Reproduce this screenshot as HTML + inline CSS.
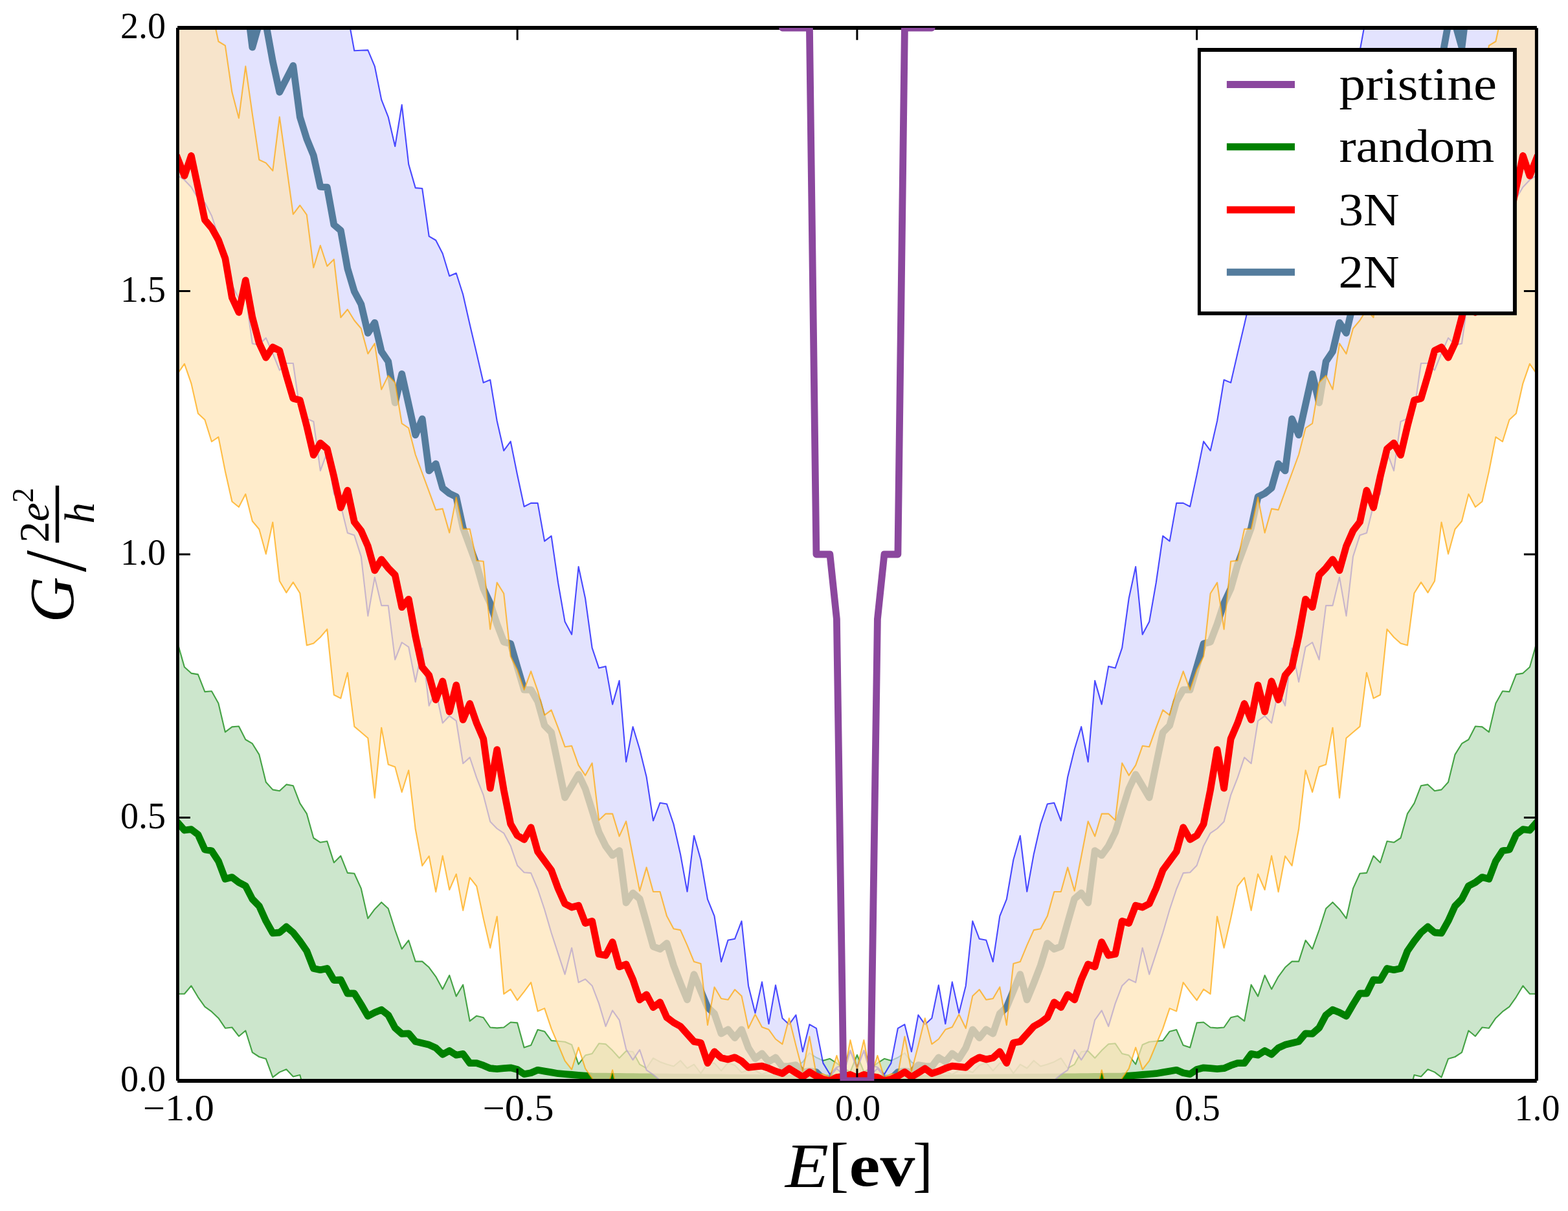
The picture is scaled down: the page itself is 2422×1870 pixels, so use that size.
<!DOCTYPE html>
<html><head><meta charset="utf-8"><title>G vs E</title><style>html,body{margin:0;padding:0;background:#fff;}svg{display:block;}</style></head><body>
<svg xmlns="http://www.w3.org/2000/svg" width="2422" height="1870" viewBox="0 0 2422 1870">
<rect width="2422" height="1870" fill="#ffffff"/>
<defs><clipPath id="ax"><rect x="274.4" y="43.0" width="2099.0" height="1626.0"/></clipPath></defs>
<g clip-path="url(#ax)" fill="none" stroke-linejoin="round">
<polygon points="274.4,993.0 284.9,1030.0 295.4,1039.6 305.9,1041.4 316.4,1068.1 326.9,1067.2 337.4,1085.9 347.9,1130.4 358.4,1122.4 368.9,1121.5 379.3,1142.0 389.8,1148.2 400.3,1165.1 410.8,1207.8 421.3,1219.4 431.8,1221.2 442.3,1211.4 452.8,1213.2 463.3,1240.3 473.8,1256.3 484.3,1294.0 494.8,1300.8 505.3,1299.0 515.8,1331.9 526.3,1321.6 536.8,1347.9 547.3,1348.7 557.8,1371.9 568.3,1418.2 578.8,1403.9 589.2,1393.2 599.7,1403.0 610.2,1436.0 620.7,1465.3 631.2,1452.0 641.7,1484.6 652.2,1484.6 662.7,1493.8 673.2,1508.1 683.7,1527.4 694.2,1506.0 704.7,1538.4 715.2,1520.6 725.7,1576.7 736.2,1568.7 746.7,1571.3 757.2,1586.5 767.7,1587.4 778.2,1586.5 788.7,1578.5 799.1,1579.4 809.6,1617.6 820.1,1614.1 830.6,1590.0 841.1,1592.7 851.6,1606.9 862.1,1607.8 872.6,1608.7 883.1,1613.2 893.6,1643.4 904.1,1629.6 914.6,1627.0 925.1,1611.3 935.6,1612.3 946.1,1622.1 956.6,1633.8 967.1,1623.0 977.6,1624.0 988.1,1643.6 998.6,1649.5 1009.0,1633.8 1019.5,1639.7 1030.0,1643.6 1040.5,1646.5 1051.0,1637.7 1061.5,1649.5 1072.0,1643.6 1082.5,1657.3 1093.0,1641.6 1103.5,1641.6 1114.0,1653.4 1124.5,1641.0 1135.0,1645.0 1145.5,1656.0 1156.0,1652.0 1166.5,1653.0 1177.0,1659.0 1187.5,1655.0 1198.0,1659.0 1208.5,1650.0 1218.9,1648.0 1229.4,1646.0 1239.9,1640.0 1250.4,1626.0 1260.9,1633.0 1271.4,1637.7 1281.9,1634.8 1292.4,1641.6 1302.9,1650.0 1313.4,1655.0 1323.9,1629.0 1334.4,1655.0 1344.9,1650.0 1355.4,1641.6 1365.9,1634.8 1376.4,1637.7 1386.9,1633.0 1397.4,1626.0 1407.9,1640.0 1418.4,1646.0 1428.8,1648.0 1439.3,1650.0 1449.8,1659.0 1460.3,1655.0 1470.8,1659.0 1481.3,1653.0 1491.8,1652.0 1502.3,1656.0 1512.8,1645.0 1523.3,1641.0 1533.8,1653.4 1544.3,1641.6 1554.8,1641.6 1565.3,1657.3 1575.8,1643.6 1586.3,1649.5 1596.8,1637.7 1607.3,1646.5 1617.8,1643.6 1628.3,1639.7 1638.8,1633.8 1649.2,1649.5 1659.7,1643.6 1670.2,1624.0 1680.7,1623.0 1691.2,1633.8 1701.7,1622.1 1712.2,1612.3 1722.7,1611.3 1733.2,1627.0 1743.7,1629.6 1754.2,1643.4 1764.7,1613.2 1775.2,1608.7 1785.7,1607.8 1796.2,1606.9 1806.7,1592.7 1817.2,1590.0 1827.7,1614.1 1838.2,1617.6 1848.6,1579.4 1859.1,1578.5 1869.6,1586.5 1880.1,1587.4 1890.6,1586.5 1901.1,1571.3 1911.6,1568.7 1922.1,1576.7 1932.6,1520.6 1943.1,1538.4 1953.6,1506.0 1964.1,1527.4 1974.6,1508.1 1985.1,1493.8 1995.6,1484.6 2006.1,1484.6 2016.6,1452.0 2027.1,1465.3 2037.6,1436.0 2048.1,1403.0 2058.5,1393.2 2069.0,1403.9 2079.5,1418.2 2090.0,1371.9 2100.5,1348.7 2111.0,1347.9 2121.5,1321.6 2132.0,1331.9 2142.5,1299.0 2153.0,1300.8 2163.5,1294.0 2174.0,1256.3 2184.5,1240.3 2195.0,1213.2 2205.5,1211.4 2216.0,1221.2 2226.5,1219.4 2237.0,1207.8 2247.5,1165.1 2258.0,1148.2 2268.4,1142.0 2278.9,1121.5 2289.4,1122.4 2299.9,1130.4 2310.4,1085.9 2320.9,1067.2 2331.4,1068.1 2341.9,1041.4 2352.4,1039.6 2362.9,1030.0 2373.4,993.0 2373.4,1534.8 2362.9,1534.8 2352.4,1522.3 2341.9,1539.8 2331.4,1554.7 2320.9,1562.2 2310.4,1572.2 2299.9,1587.7 2289.4,1586.5 2278.9,1600.2 2268.4,1591.5 2258.0,1625.1 2247.5,1632.0 2237.0,1635.1 2226.5,1663.7 2216.0,1655.6 2205.5,1651.3 2195.0,1662.5 2184.5,1660.0 2174.0,1700.0 2163.5,1700.0 2153.0,1700.0 2142.5,1700.0 2132.0,1700.0 2121.5,1700.0 2111.0,1700.0 2100.5,1700.0 2090.0,1700.0 2079.5,1700.0 2069.0,1700.0 2058.5,1700.0 2048.1,1700.0 2037.6,1700.0 2027.1,1700.0 2016.6,1700.0 2006.1,1700.0 1995.6,1700.0 1985.1,1700.0 1974.6,1700.0 1964.1,1700.0 1953.6,1700.0 1943.1,1700.0 1932.6,1700.0 1922.1,1700.0 1911.6,1700.0 1901.1,1700.0 1890.6,1700.0 1880.1,1700.0 1869.6,1700.0 1859.1,1700.0 1848.6,1700.0 1838.2,1700.0 1827.7,1700.0 1817.2,1700.0 1806.7,1700.0 1796.2,1700.0 1785.7,1700.0 1775.2,1700.0 1764.7,1700.0 1754.2,1700.0 1743.7,1700.0 1733.2,1700.0 1722.7,1700.0 1712.2,1700.0 1701.7,1700.0 1691.2,1700.0 1680.7,1700.0 1670.2,1700.0 1659.7,1700.0 1649.2,1700.0 1638.8,1700.0 1628.3,1700.0 1617.8,1700.0 1607.3,1700.0 1596.8,1700.0 1586.3,1700.0 1575.8,1700.0 1565.3,1700.0 1554.8,1700.0 1544.3,1700.0 1533.8,1700.0 1523.3,1700.0 1512.8,1700.0 1502.3,1700.0 1491.8,1700.0 1481.3,1700.0 1470.8,1700.0 1460.3,1700.0 1449.8,1700.0 1439.3,1700.0 1428.8,1700.0 1418.4,1700.0 1407.9,1700.0 1397.4,1700.0 1386.9,1700.0 1376.4,1700.0 1365.9,1700.0 1355.4,1700.0 1344.9,1700.0 1334.4,1700.0 1323.9,1700.0 1313.4,1700.0 1302.9,1700.0 1292.4,1700.0 1281.9,1700.0 1271.4,1700.0 1260.9,1700.0 1250.4,1700.0 1239.9,1700.0 1229.4,1700.0 1218.9,1700.0 1208.5,1700.0 1198.0,1700.0 1187.5,1700.0 1177.0,1700.0 1166.5,1700.0 1156.0,1700.0 1145.5,1700.0 1135.0,1700.0 1124.5,1700.0 1114.0,1700.0 1103.5,1700.0 1093.0,1700.0 1082.5,1700.0 1072.0,1700.0 1061.5,1700.0 1051.0,1700.0 1040.5,1700.0 1030.0,1700.0 1019.5,1700.0 1009.0,1700.0 998.6,1700.0 988.1,1700.0 977.6,1700.0 967.1,1700.0 956.6,1700.0 946.1,1700.0 935.6,1700.0 925.1,1700.0 914.6,1700.0 904.1,1700.0 893.6,1700.0 883.1,1700.0 872.6,1700.0 862.1,1700.0 851.6,1700.0 841.1,1700.0 830.6,1700.0 820.1,1700.0 809.6,1700.0 799.1,1700.0 788.7,1700.0 778.2,1700.0 767.7,1700.0 757.2,1700.0 746.7,1700.0 736.2,1700.0 725.7,1700.0 715.2,1700.0 704.7,1700.0 694.2,1700.0 683.7,1700.0 673.2,1700.0 662.7,1700.0 652.2,1700.0 641.7,1700.0 631.2,1700.0 620.7,1700.0 610.2,1700.0 599.7,1700.0 589.2,1700.0 578.8,1700.0 568.3,1700.0 557.8,1700.0 547.3,1700.0 536.8,1700.0 526.3,1700.0 515.8,1700.0 505.3,1700.0 494.8,1700.0 484.3,1700.0 473.8,1700.0 463.3,1660.0 452.8,1662.5 442.3,1651.3 431.8,1655.6 421.3,1663.7 410.8,1635.1 400.3,1632.0 389.8,1625.1 379.3,1591.5 368.9,1600.2 358.4,1586.5 347.9,1587.7 337.4,1572.2 326.9,1562.2 316.4,1554.7 305.9,1539.8 295.4,1522.3 284.9,1534.8 274.4,1534.8" fill="rgb(182,219,182)" fill-opacity="0.7" stroke="rgb(0,128,0)" stroke-opacity="0.7" stroke-width="2.1"/>
<polyline points="274.4,1270.0 284.9,1282.0 295.4,1280.7 305.9,1288.7 316.4,1311.9 326.9,1313.7 337.4,1329.7 347.9,1357.3 358.4,1354.6 368.9,1362.6 379.3,1368.0 389.8,1388.4 400.3,1399.1 410.8,1422.2 421.3,1440.9 431.8,1440.0 442.3,1431.1 452.8,1440.0 463.3,1453.4 473.8,1468.5 484.3,1495.5 494.8,1497.7 505.3,1495.5 515.8,1513.6 526.3,1512.8 536.8,1534.0 547.3,1534.0 557.8,1551.0 568.3,1569.1 578.8,1563.5 589.2,1559.2 599.7,1567.4 610.2,1587.1 620.7,1596.4 631.2,1595.8 641.7,1608.3 652.2,1610.8 662.7,1613.3 673.2,1618.2 683.7,1628.2 694.2,1622.5 704.7,1629.2 715.2,1627.4 725.7,1641.7 736.2,1641.7 746.7,1645.2 757.2,1649.7 767.7,1650.6 778.2,1649.7 788.7,1648.8 799.1,1651.5 809.6,1658.6 820.1,1656.8 830.6,1652.3 841.1,1654.1 851.6,1655.9 862.1,1657.7 872.6,1658.6 883.1,1659.5 893.6,1660.3 904.1,1661.2 914.6,1662.0 925.1,1662.1 935.6,1662.2 946.1,1662.3 956.6,1662.4 967.1,1662.6 977.6,1662.7 988.1,1662.8 998.6,1662.9 1009.0,1663.0 1019.5,1663.1 1030.0,1663.2 1040.5,1663.3 1051.0,1663.4 1061.5,1663.5 1072.0,1663.6 1082.5,1663.7 1093.0,1663.8 1103.5,1663.9 1114.0,1664.0 1124.5,1664.1 1135.0,1664.2 1145.5,1664.3 1156.0,1664.4 1166.5,1664.5 1177.0,1664.6 1187.5,1664.7 1198.0,1664.8 1208.5,1664.9 1218.9,1665.0 1229.4,1665.0 1239.9,1665.0 1250.4,1665.0 1260.9,1665.0 1271.4,1665.0 1281.9,1665.0 1292.4,1665.0 1302.9,1665.0 1313.4,1665.0 1323.9,1665.0 1334.4,1665.0 1344.9,1665.0 1355.4,1665.0 1365.9,1665.0 1376.4,1665.0 1386.9,1665.0 1397.4,1665.0 1407.9,1665.0 1418.4,1665.0 1428.8,1665.0 1439.3,1664.9 1449.8,1664.8 1460.3,1664.7 1470.8,1664.6 1481.3,1664.5 1491.8,1664.4 1502.3,1664.3 1512.8,1664.2 1523.3,1664.1 1533.8,1664.0 1544.3,1663.9 1554.8,1663.8 1565.3,1663.7 1575.8,1663.6 1586.3,1663.5 1596.8,1663.4 1607.3,1663.3 1617.8,1663.2 1628.3,1663.1 1638.8,1663.0 1649.2,1662.9 1659.7,1662.8 1670.2,1662.7 1680.7,1662.6 1691.2,1662.4 1701.7,1662.3 1712.2,1662.2 1722.7,1662.1 1733.2,1662.0 1743.7,1661.2 1754.2,1660.3 1764.7,1659.5 1775.2,1658.6 1785.7,1657.7 1796.2,1655.9 1806.7,1654.1 1817.2,1652.3 1827.7,1656.8 1838.2,1658.6 1848.6,1651.5 1859.1,1648.8 1869.6,1649.7 1880.1,1650.6 1890.6,1649.7 1901.1,1645.2 1911.6,1641.7 1922.1,1641.7 1932.6,1627.4 1943.1,1629.2 1953.6,1622.5 1964.1,1628.2 1974.6,1618.2 1985.1,1613.3 1995.6,1610.8 2006.1,1608.3 2016.6,1595.8 2027.1,1596.4 2037.6,1587.1 2048.1,1567.4 2058.5,1559.2 2069.0,1563.5 2079.5,1569.1 2090.0,1551.0 2100.5,1534.0 2111.0,1534.0 2121.5,1512.8 2132.0,1513.6 2142.5,1495.5 2153.0,1497.7 2163.5,1495.5 2174.0,1468.5 2184.5,1453.4 2195.0,1440.0 2205.5,1431.1 2216.0,1440.0 2226.5,1440.9 2237.0,1422.2 2247.5,1399.1 2258.0,1388.4 2268.4,1368.0 2278.9,1362.6 2289.4,1354.6 2299.9,1357.3 2310.4,1329.7 2320.9,1313.7 2331.4,1311.9 2341.9,1288.7 2352.4,1280.7 2362.9,1282.0 2373.4,1270.0" stroke="#008000" stroke-width="10.8" stroke-linecap="square"/>
<polygon points="274.4,-200.0 284.9,-200.0 295.4,-200.0 305.9,-200.0 316.4,-200.0 326.9,-200.0 337.4,-200.0 347.9,-200.0 358.4,-200.0 368.9,-200.0 379.3,-200.0 389.8,-200.0 400.3,-200.0 410.8,-200.0 421.3,-200.0 431.8,-200.0 442.3,-200.0 452.8,-200.0 463.3,-200.0 473.8,-200.0 484.3,-200.0 494.8,-200.0 505.3,-200.0 515.8,-200.0 526.3,-200.0 536.8,21.0 547.3,78.3 557.8,77.7 568.3,77.4 578.8,102.3 589.2,153.9 599.7,180.6 610.2,226.0 620.7,161.9 631.2,253.6 641.7,290.1 652.2,291.0 662.7,364.8 673.2,371.0 683.7,391.5 694.2,426.2 704.7,421.8 715.2,454.8 725.7,501.0 736.2,545.5 746.7,590.9 757.2,586.5 767.7,650.0 778.2,695.9 788.7,681.6 799.1,733.2 809.6,782.2 820.1,776.9 830.6,776.9 841.1,835.6 851.6,827.6 862.1,900.0 872.6,960.1 883.1,979.7 893.6,875.0 904.1,924.0 914.6,1000.4 925.1,1031.6 935.6,1028.9 946.1,1087.6 956.6,1051.1 967.1,1176.5 977.6,1122.2 988.1,1157.0 998.6,1199.7 1009.0,1267.3 1019.5,1239.7 1030.0,1241.5 1040.5,1272.7 1051.0,1318.9 1061.5,1376.8 1072.0,1290.5 1082.5,1327.8 1093.0,1388.7 1103.5,1414.6 1114.0,1485.1 1124.5,1451.8 1135.0,1449.8 1145.5,1422.4 1156.0,1522.2 1166.5,1564.3 1177.0,1516.4 1187.5,1581.0 1198.0,1521.3 1208.5,1572.2 1218.9,1581.9 1229.4,1567.3 1239.9,1624.0 1250.4,1581.9 1260.9,1587.8 1271.4,1641.6 1281.9,1659.0 1292.4,1648.0 1302.9,1645.0 1313.4,1622.0 1323.9,1648.0 1334.4,1622.0 1344.9,1645.0 1355.4,1648.0 1365.9,1659.0 1376.4,1641.6 1386.9,1587.8 1397.4,1581.9 1407.9,1624.0 1418.4,1567.3 1428.8,1581.9 1439.3,1572.2 1449.8,1521.3 1460.3,1581.0 1470.8,1516.4 1481.3,1564.3 1491.8,1522.2 1502.3,1422.4 1512.8,1449.8 1523.3,1451.8 1533.8,1485.1 1544.3,1414.6 1554.8,1388.7 1565.3,1327.8 1575.8,1290.5 1586.3,1376.8 1596.8,1318.9 1607.3,1272.7 1617.8,1241.5 1628.3,1239.7 1638.8,1267.3 1649.2,1199.7 1659.7,1157.0 1670.2,1122.2 1680.7,1176.5 1691.2,1051.1 1701.7,1087.6 1712.2,1028.9 1722.7,1031.6 1733.2,1000.4 1743.7,924.0 1754.2,875.0 1764.7,979.7 1775.2,960.1 1785.7,900.0 1796.2,827.6 1806.7,835.6 1817.2,776.9 1827.7,776.9 1838.2,782.2 1848.6,733.2 1859.1,681.6 1869.6,695.9 1880.1,650.0 1890.6,586.5 1901.1,590.9 1911.6,545.5 1922.1,501.0 1932.6,454.8 1943.1,421.8 1953.6,426.2 1964.1,391.5 1974.6,371.0 1985.1,364.8 1995.6,291.0 2006.1,290.1 2016.6,253.6 2027.1,161.9 2037.6,226.0 2048.1,180.6 2058.5,153.9 2069.0,102.3 2079.5,77.4 2090.0,77.7 2100.5,78.3 2111.0,21.0 2121.5,-200.0 2132.0,-200.0 2142.5,-200.0 2153.0,-200.0 2163.5,-200.0 2174.0,-200.0 2184.5,-200.0 2195.0,-200.0 2205.5,-200.0 2216.0,-200.0 2226.5,-200.0 2237.0,-200.0 2247.5,-200.0 2258.0,-200.0 2268.4,-200.0 2278.9,-200.0 2289.4,-200.0 2299.9,-200.0 2310.4,-200.0 2320.9,-200.0 2331.4,-200.0 2341.9,-200.0 2352.4,-200.0 2362.9,-200.0 2373.4,-200.0 2373.4,271.0 2362.9,278.0 2352.4,289.0 2341.9,306.5 2331.4,312.8 2320.9,333.2 2310.4,365.0 2299.9,400.0 2289.4,440.0 2278.9,461.4 2268.4,455.0 2258.0,530.7 2247.5,532.5 2237.0,521.8 2226.5,545.9 2216.0,571.7 2205.5,561.0 2195.0,561.0 2184.5,634.0 2174.0,646.4 2163.5,651.0 2153.0,726.9 2142.5,698.4 2132.0,762.5 2121.5,780.3 2111.0,823.0 2100.5,826.6 2090.0,859.4 2079.5,951.1 2069.0,891.5 2058.5,935.1 2048.1,935.1 2037.6,1018.7 2027.1,992.0 2016.6,999.2 2006.1,1053.0 1995.6,1000.9 1985.1,1089.8 1974.6,1066.7 1964.1,1116.5 1953.6,1105.6 1943.1,1113.2 1932.6,1179.0 1922.1,1169.6 1911.6,1201.2 1901.1,1227.9 1890.6,1268.8 1880.1,1279.5 1869.6,1286.6 1859.1,1306.2 1848.6,1336.5 1838.2,1347.2 1827.7,1348.1 1817.2,1373.0 1806.7,1404.5 1796.2,1440.5 1785.7,1472.6 1775.2,1504.6 1764.7,1463.7 1754.2,1517.1 1743.7,1512.0 1733.2,1522.2 1722.7,1549.6 1712.2,1584.9 1701.7,1560.4 1691.2,1575.1 1680.7,1620.1 1670.2,1636.7 1659.7,1621.1 1649.2,1652.4 1638.8,1659.3 1628.3,1668.0 1617.8,1668.0 1607.3,1668.0 1596.8,1668.0 1586.3,1668.0 1575.8,1668.0 1565.3,1668.0 1554.8,1668.0 1544.3,1668.0 1533.8,1668.0 1523.3,1668.0 1512.8,1668.0 1502.3,1668.0 1491.8,1668.0 1481.3,1668.0 1470.8,1668.0 1460.3,1668.0 1449.8,1668.0 1439.3,1668.0 1428.8,1668.0 1418.4,1668.0 1407.9,1668.0 1397.4,1668.0 1386.9,1668.0 1376.4,1668.0 1365.9,1662.0 1355.4,1650.0 1344.9,1660.0 1334.4,1622.7 1323.9,1651.0 1313.4,1622.7 1302.9,1660.0 1292.4,1650.0 1281.9,1662.0 1271.4,1668.0 1260.9,1668.0 1250.4,1668.0 1239.9,1668.0 1229.4,1668.0 1218.9,1668.0 1208.5,1668.0 1198.0,1668.0 1187.5,1668.0 1177.0,1668.0 1166.5,1668.0 1156.0,1668.0 1145.5,1668.0 1135.0,1668.0 1124.5,1668.0 1114.0,1668.0 1103.5,1668.0 1093.0,1668.0 1082.5,1668.0 1072.0,1668.0 1061.5,1668.0 1051.0,1668.0 1040.5,1668.0 1030.0,1668.0 1019.5,1668.0 1009.0,1659.3 998.6,1652.4 988.1,1621.1 977.6,1636.7 967.1,1620.1 956.6,1575.1 946.1,1560.4 935.6,1584.9 925.1,1549.6 914.6,1522.2 904.1,1512.0 893.6,1517.1 883.1,1463.7 872.6,1504.6 862.1,1472.6 851.6,1440.5 841.1,1404.5 830.6,1373.0 820.1,1348.1 809.6,1347.2 799.1,1336.5 788.7,1306.2 778.2,1286.6 767.7,1279.5 757.2,1268.8 746.7,1227.9 736.2,1201.2 725.7,1169.6 715.2,1179.0 704.7,1113.2 694.2,1105.6 683.7,1116.5 673.2,1066.7 662.7,1089.8 652.2,1000.9 641.7,1053.0 631.2,999.2 620.7,992.0 610.2,1018.7 599.7,935.1 589.2,935.1 578.8,891.5 568.3,951.1 557.8,859.4 547.3,826.6 536.8,823.0 526.3,780.3 515.8,762.5 505.3,698.4 494.8,726.9 484.3,651.0 473.8,646.4 463.3,634.0 452.8,561.0 442.3,561.0 431.8,571.7 421.3,545.9 410.8,521.8 400.3,532.5 389.8,530.7 379.3,455.0 368.9,461.4 358.4,440.0 347.9,400.0 337.4,365.0 326.9,333.2 316.4,312.8 305.9,306.5 295.4,289.0 284.9,278.0 274.4,271.0" fill="rgb(215,215,254)" fill-opacity="0.7" stroke="rgb(0,0,255)" stroke-opacity="0.7" stroke-width="2.1"/>
<polyline points="274.4,-100.0 284.9,-100.0 295.4,-100.0 305.9,-100.0 316.4,-100.0 326.9,-100.0 337.4,-100.0 347.9,-100.0 358.4,-100.0 368.9,-100.0 379.3,-12.0 389.8,73.0 400.3,36.0 410.8,37.0 421.3,94.6 431.8,142.3 442.3,121.9 452.8,101.4 463.3,180.6 473.8,214.4 484.3,240.0 494.8,288.3 505.3,289.2 515.8,347.0 526.3,355.9 536.8,414.6 547.3,450.0 557.8,469.8 568.3,514.3 578.8,498.3 589.2,542.8 599.7,558.3 610.2,621.9 620.7,577.4 631.2,624.5 641.7,671.7 652.2,646.8 662.7,726.9 673.2,716.2 683.7,753.6 694.2,762.0 704.7,767.1 715.2,815.1 725.7,843.6 736.2,872.0 746.7,909.0 757.2,931.6 767.7,963.7 778.2,991.2 788.7,993.9 799.1,1030.0 809.6,1065.1 820.1,1065.1 830.6,1082.9 841.1,1120.3 851.6,1131.0 862.1,1181.0 872.6,1231.5 883.1,1213.7 893.6,1195.9 904.1,1218.0 914.6,1251.3 925.1,1285.1 935.6,1306.5 946.1,1320.7 956.6,1313.6 967.1,1394.0 977.6,1379.0 988.1,1387.8 998.6,1424.4 1009.0,1461.6 1019.5,1465.5 1030.0,1456.7 1040.5,1490.9 1051.0,1518.3 1061.5,1543.8 1072.0,1504.6 1082.5,1530.1 1093.0,1555.5 1103.5,1565.3 1114.0,1596.0 1124.5,1589.8 1135.0,1602.5 1145.5,1589.8 1156.0,1618.2 1166.5,1634.6 1177.0,1626.9 1187.5,1639.5 1198.0,1633.0 1208.5,1647.0 1218.9,1646.3 1229.4,1644.7 1239.9,1656.0 1250.4,1653.8 1260.9,1655.5 1271.4,1666.0 1281.9,1668.0 1292.4,1664.0 1302.9,1665.0 1313.4,1665.0 1323.9,1666.0 1334.4,1665.0 1344.9,1665.0 1355.4,1664.0 1365.9,1668.0 1376.4,1666.0 1386.9,1655.5 1397.4,1653.8 1407.9,1656.0 1418.4,1644.7 1428.8,1646.3 1439.3,1647.0 1449.8,1633.0 1460.3,1639.5 1470.8,1626.9 1481.3,1634.6 1491.8,1618.2 1502.3,1589.8 1512.8,1602.5 1523.3,1589.8 1533.8,1596.0 1544.3,1565.3 1554.8,1555.5 1565.3,1530.1 1575.8,1504.6 1586.3,1543.8 1596.8,1518.3 1607.3,1490.9 1617.8,1456.7 1628.3,1465.5 1638.8,1461.6 1649.2,1424.4 1659.7,1387.8 1670.2,1379.0 1680.7,1394.0 1691.2,1313.6 1701.7,1320.7 1712.2,1306.5 1722.7,1285.1 1733.2,1251.3 1743.7,1218.0 1754.2,1195.9 1764.7,1213.7 1775.2,1231.5 1785.7,1181.0 1796.2,1131.0 1806.7,1120.3 1817.2,1082.9 1827.7,1065.1 1838.2,1065.1 1848.6,1030.0 1859.1,993.9 1869.6,991.2 1880.1,963.7 1890.6,931.6 1901.1,909.0 1911.6,872.0 1922.1,843.6 1932.6,815.1 1943.1,767.1 1953.6,762.0 1964.1,753.6 1974.6,716.2 1985.1,726.9 1995.6,646.8 2006.1,671.7 2016.6,624.5 2027.1,577.4 2037.6,621.9 2048.1,558.3 2058.5,542.8 2069.0,498.3 2079.5,514.3 2090.0,469.8 2100.5,450.0 2111.0,414.6 2121.5,355.9 2132.0,347.0 2142.5,289.2 2153.0,288.3 2163.5,240.0 2174.0,214.4 2184.5,180.6 2195.0,101.4 2205.5,121.9 2216.0,142.3 2226.5,94.6 2237.0,37.0 2247.5,36.0 2258.0,73.0 2268.4,-12.0 2278.9,-100.0 2289.4,-100.0 2299.9,-100.0 2310.4,-100.0 2320.9,-100.0 2331.4,-100.0 2341.9,-100.0 2352.4,-100.0 2362.9,-100.0 2373.4,-100.0" stroke="#547c9d" stroke-width="10.8" stroke-linecap="square"/>
<polygon points="274.4,-100.0 284.9,-100.0 295.4,-100.0 305.9,-100.0 316.4,-100.0 326.9,15.0 337.4,64.0 347.9,70.3 358.4,142.3 368.9,182.4 379.3,102.3 389.8,176.2 400.3,246.7 410.8,251.6 421.3,263.6 431.8,180.6 442.3,255.0 452.8,330.8 463.3,317.0 473.8,331.7 484.3,413.3 494.8,379.0 505.3,411.0 515.8,400.4 526.3,490.2 536.8,477.8 547.3,494.7 557.8,507.2 568.3,546.3 578.8,530.3 589.2,601.4 599.7,580.0 610.2,590.7 620.7,653.9 631.2,661.0 641.7,702.0 652.2,730.5 662.7,758.9 673.2,787.4 683.7,785.6 694.2,822.6 704.7,768.0 715.2,816.9 725.7,816.9 736.2,865.8 746.7,866.7 757.2,971.7 767.7,899.6 778.2,916.5 788.7,1013.5 799.1,1034.5 809.6,1065.1 820.1,1036.6 830.6,1066.9 841.1,1104.3 851.6,1096.3 862.1,1123.9 872.6,1153.2 883.1,1151.8 893.6,1181.6 904.1,1197.3 914.6,1178.3 925.1,1266.4 935.6,1256.6 946.1,1256.6 956.6,1291.4 967.1,1268.2 977.6,1322.5 988.1,1375.6 998.6,1339.4 1009.0,1377.0 1019.5,1377.0 1030.0,1414.6 1040.5,1434.2 1051.0,1436.1 1061.5,1459.6 1072.0,1485.1 1082.5,1488.0 1093.0,1582.9 1103.5,1524.2 1114.0,1542.0 1124.5,1543.8 1135.0,1528.1 1145.5,1537.9 1156.0,1587.8 1166.5,1566.3 1177.0,1585.9 1187.5,1589.8 1198.0,1604.5 1208.5,1612.3 1218.9,1572.2 1229.4,1614.2 1239.9,1654.4 1250.4,1600.5 1260.9,1659.3 1271.4,1658.3 1281.9,1664.1 1292.4,1630.0 1302.9,1663.0 1313.4,1606.1 1323.9,1650.0 1334.4,1606.1 1344.9,1663.0 1355.4,1630.0 1365.9,1664.1 1376.4,1658.3 1386.9,1659.3 1397.4,1600.5 1407.9,1654.4 1418.4,1614.2 1428.8,1572.2 1439.3,1612.3 1449.8,1604.5 1460.3,1589.8 1470.8,1585.9 1481.3,1566.3 1491.8,1587.8 1502.3,1537.9 1512.8,1528.1 1523.3,1543.8 1533.8,1542.0 1544.3,1524.2 1554.8,1582.9 1565.3,1488.0 1575.8,1485.1 1586.3,1459.6 1596.8,1436.1 1607.3,1434.2 1617.8,1414.6 1628.3,1377.0 1638.8,1377.0 1649.2,1339.4 1659.7,1375.6 1670.2,1322.5 1680.7,1268.2 1691.2,1291.4 1701.7,1256.6 1712.2,1256.6 1722.7,1266.4 1733.2,1178.3 1743.7,1197.3 1754.2,1181.6 1764.7,1151.8 1775.2,1153.2 1785.7,1123.9 1796.2,1096.3 1806.7,1104.3 1817.2,1066.9 1827.7,1036.6 1838.2,1065.1 1848.6,1034.5 1859.1,1013.5 1869.6,916.5 1880.1,899.6 1890.6,971.7 1901.1,866.7 1911.6,865.8 1922.1,816.9 1932.6,816.9 1943.1,768.0 1953.6,822.6 1964.1,785.6 1974.6,787.4 1985.1,758.9 1995.6,730.5 2006.1,702.0 2016.6,661.0 2027.1,653.9 2037.6,590.7 2048.1,580.0 2058.5,601.4 2069.0,530.3 2079.5,546.3 2090.0,507.2 2100.5,494.7 2111.0,477.8 2121.5,490.2 2132.0,400.4 2142.5,411.0 2153.0,379.0 2163.5,413.3 2174.0,331.7 2184.5,317.0 2195.0,330.8 2205.5,255.0 2216.0,180.6 2226.5,263.6 2237.0,251.6 2247.5,246.7 2258.0,176.2 2268.4,102.3 2278.9,182.4 2289.4,142.3 2299.9,70.3 2310.4,64.0 2320.9,15.0 2331.4,-100.0 2341.9,-100.0 2352.4,-100.0 2362.9,-100.0 2373.4,-100.0 2373.4,577.0 2362.9,561.9 2352.4,592.1 2341.9,638.4 2331.4,648.2 2320.9,682.0 2310.4,674.9 2299.9,728.0 2289.4,774.5 2278.9,783.0 2268.4,763.0 2258.0,804.8 2247.5,817.2 2237.0,855.5 2226.5,806.5 2216.0,897.3 2205.5,915.1 2195.0,899.1 2184.5,916.0 2174.0,996.5 2163.5,993.6 2153.0,984.0 2142.5,971.6 2132.0,1073.0 2121.5,1078.4 2111.0,1038.7 2100.5,1121.9 2090.0,1130.8 2079.5,1139.7 2069.0,1232.2 2058.5,1123.7 2048.1,1180.6 2037.6,1184.2 2027.1,1223.3 2016.6,1189.5 2006.1,1280.3 1995.6,1336.8 1985.1,1322.0 1974.6,1377.2 1964.1,1321.6 1953.6,1374.0 1943.1,1349.8 1932.6,1405.9 1922.1,1355.2 1911.6,1368.5 1901.1,1418.3 1890.6,1463.7 1880.1,1415.2 1869.6,1534.9 1859.1,1527.7 1848.6,1544.6 1838.2,1531.3 1827.7,1517.1 1817.2,1561.6 1806.7,1557.1 1796.2,1588.3 1785.7,1613.2 1775.2,1638.1 1764.7,1651.5 1754.2,1617.6 1743.7,1650.0 1733.2,1665.0 1722.7,1690.0 1712.2,1690.0 1701.7,1652.4 1691.2,1700.0 1680.7,1700.0 1670.2,1700.0 1659.7,1700.0 1649.2,1700.0 1638.8,1700.0 1628.3,1700.0 1617.8,1700.0 1607.3,1700.0 1596.8,1700.0 1586.3,1700.0 1575.8,1700.0 1565.3,1700.0 1554.8,1700.0 1544.3,1700.0 1533.8,1700.0 1523.3,1700.0 1512.8,1700.0 1502.3,1700.0 1491.8,1700.0 1481.3,1700.0 1470.8,1700.0 1460.3,1700.0 1449.8,1700.0 1439.3,1700.0 1428.8,1700.0 1418.4,1700.0 1407.9,1700.0 1397.4,1700.0 1386.9,1700.0 1376.4,1700.0 1365.9,1700.0 1355.4,1700.0 1344.9,1700.0 1334.4,1700.0 1323.9,1700.0 1313.4,1700.0 1302.9,1700.0 1292.4,1700.0 1281.9,1700.0 1271.4,1700.0 1260.9,1700.0 1250.4,1700.0 1239.9,1700.0 1229.4,1700.0 1218.9,1700.0 1208.5,1700.0 1198.0,1700.0 1187.5,1700.0 1177.0,1700.0 1166.5,1700.0 1156.0,1700.0 1145.5,1700.0 1135.0,1700.0 1124.5,1700.0 1114.0,1700.0 1103.5,1700.0 1093.0,1700.0 1082.5,1700.0 1072.0,1700.0 1061.5,1700.0 1051.0,1700.0 1040.5,1700.0 1030.0,1700.0 1019.5,1700.0 1009.0,1700.0 998.6,1700.0 988.1,1700.0 977.6,1700.0 967.1,1700.0 956.6,1700.0 946.1,1652.4 935.6,1690.0 925.1,1690.0 914.6,1665.0 904.1,1650.0 893.6,1617.6 883.1,1651.5 872.6,1638.1 862.1,1613.2 851.6,1588.3 841.1,1557.1 830.6,1561.6 820.1,1517.1 809.6,1531.3 799.1,1544.6 788.7,1527.7 778.2,1534.9 767.7,1415.2 757.2,1463.7 746.7,1418.3 736.2,1368.5 725.7,1355.2 715.2,1405.9 704.7,1349.8 694.2,1374.0 683.7,1321.6 673.2,1377.2 662.7,1322.0 652.2,1336.8 641.7,1280.3 631.2,1189.5 620.7,1223.3 610.2,1184.2 599.7,1180.6 589.2,1123.7 578.8,1232.2 568.3,1139.7 557.8,1130.8 547.3,1121.9 536.8,1038.7 526.3,1078.4 515.8,1073.0 505.3,971.6 494.8,984.0 484.3,993.6 473.8,996.5 463.3,916.0 452.8,899.1 442.3,915.1 431.8,897.3 421.3,806.5 410.8,855.5 400.3,817.2 389.8,804.8 379.3,763.0 368.9,783.0 358.4,774.5 347.9,728.0 337.4,674.9 326.9,682.0 316.4,648.2 305.9,638.4 295.4,592.1 284.9,561.9 274.4,577.0" fill="rgb(255,228,181)" fill-opacity="0.7" stroke="rgb(255,165,0)" stroke-opacity="0.7" stroke-width="2.1"/>
<polyline points="274.4,244.7 284.9,271.4 295.4,240.5 305.9,290.0 316.4,339.5 326.9,351.9 337.4,370.6 347.9,399.1 358.4,459.6 368.9,482.3 379.3,432.9 389.8,490.0 400.3,529.8 410.8,552.1 421.3,536.1 431.8,541.4 442.3,579.7 452.8,615.3 463.3,618.0 473.8,658.0 484.3,702.7 494.8,684.2 505.3,693.1 515.8,735.8 526.3,783.9 536.8,757.2 547.3,806.0 557.8,819.5 568.3,843.4 578.8,880.8 589.2,863.9 599.7,877.2 610.2,887.9 620.7,937.7 631.2,925.3 641.7,982.0 652.2,1030.3 662.7,1042.8 673.2,1080.5 683.7,1052.0 694.2,1099.0 704.7,1058.0 715.2,1111.4 725.7,1086.5 736.2,1116.7 746.7,1141.0 757.2,1217.2 767.7,1157.6 778.2,1220.0 788.7,1272.4 799.1,1290.2 809.6,1296.4 820.1,1277.7 830.6,1315.1 841.1,1329.4 851.6,1343.6 862.1,1372.1 872.6,1395.5 883.1,1401.0 893.6,1398.3 904.1,1425.5 914.6,1422.4 925.1,1473.3 935.6,1475.3 946.1,1454.7 956.6,1492.9 967.1,1489.0 977.6,1512.5 988.1,1543.8 998.6,1535.9 1009.0,1555.5 1019.5,1547.7 1030.0,1571.2 1040.5,1579.0 1051.0,1584.9 1061.5,1596.6 1072.0,1608.4 1082.5,1610.3 1093.0,1641.6 1103.5,1624.0 1114.0,1633.5 1124.5,1635.9 1135.0,1632.8 1145.5,1638.5 1156.0,1648.4 1166.5,1647.2 1177.0,1646.2 1187.5,1649.7 1198.0,1654.2 1208.5,1657.6 1218.9,1650.0 1229.4,1656.6 1239.9,1663.0 1250.4,1655.4 1260.9,1661.8 1271.4,1666.5 1281.9,1669.0 1292.4,1663.5 1302.9,1662.0 1313.4,1659.5 1323.9,1664.0 1334.4,1659.5 1344.9,1662.0 1355.4,1663.5 1365.9,1669.0 1376.4,1666.5 1386.9,1661.8 1397.4,1655.4 1407.9,1663.0 1418.4,1656.6 1428.8,1650.0 1439.3,1657.6 1449.8,1654.2 1460.3,1649.7 1470.8,1646.2 1481.3,1647.2 1491.8,1648.4 1502.3,1638.5 1512.8,1632.8 1523.3,1635.9 1533.8,1633.5 1544.3,1624.0 1554.8,1641.6 1565.3,1610.3 1575.8,1608.4 1586.3,1596.6 1596.8,1584.9 1607.3,1579.0 1617.8,1571.2 1628.3,1547.7 1638.8,1555.5 1649.2,1535.9 1659.7,1543.8 1670.2,1512.5 1680.7,1489.0 1691.2,1492.9 1701.7,1454.7 1712.2,1475.3 1722.7,1473.3 1733.2,1422.4 1743.7,1425.5 1754.2,1398.3 1764.7,1401.0 1775.2,1395.5 1785.7,1372.1 1796.2,1343.6 1806.7,1329.4 1817.2,1315.1 1827.7,1277.7 1838.2,1296.4 1848.6,1290.2 1859.1,1272.4 1869.6,1220.0 1880.1,1157.6 1890.6,1217.2 1901.1,1141.0 1911.6,1116.7 1922.1,1086.5 1932.6,1111.4 1943.1,1058.0 1953.6,1099.0 1964.1,1052.0 1974.6,1080.5 1985.1,1042.8 1995.6,1030.3 2006.1,982.0 2016.6,925.3 2027.1,937.7 2037.6,887.9 2048.1,877.2 2058.5,863.9 2069.0,880.8 2079.5,843.4 2090.0,819.5 2100.5,806.0 2111.0,757.2 2121.5,783.9 2132.0,735.8 2142.5,693.1 2153.0,684.2 2163.5,702.7 2174.0,658.0 2184.5,618.0 2195.0,615.3 2205.5,579.7 2216.0,541.4 2226.5,536.1 2237.0,552.1 2247.5,529.8 2258.0,490.0 2268.4,432.9 2278.9,482.3 2289.4,459.6 2299.9,399.1 2310.4,370.6 2320.9,351.9 2331.4,339.5 2341.9,290.0 2352.4,240.5 2362.9,271.4 2373.4,244.7" stroke="#ff0000" stroke-width="10.8" stroke-linecap="square"/>
</g>
<path d="M274.4 1262.50H293.9M2373.4 1262.50H2353.9M274.4 856.00H293.9M2373.4 856.00H2353.9M274.4 449.50H293.9M2373.4 449.50H2353.9M799.15 1669.0V1650.2M799.15 43.0V61.8M1323.90 1669.0V1650.2M1323.90 43.0V61.8M1848.65 1669.0V1650.2M1848.65 43.0V61.8" stroke="#000" stroke-width="3" fill="none"/>
<path fill="#000" d="M272 43h4.85v1625.7h-4.85z M2370.9 43.2h5v1625.5h-5z M274.1 40h2099.8v6h-2099.8z M274.1 1666h2099.7v5.9h-2099.7z"/>
<g clip-path="url(#ax)"><polyline points="274.4,-770.0 284.9,-770.0 295.4,-770.0 305.9,-770.0 316.4,-770.0 326.9,-770.0 337.4,-770.0 347.9,-770.0 358.4,-770.0 368.9,-770.0 379.3,-770.0 389.8,-770.0 400.3,-770.0 410.8,-770.0 421.3,-770.0 431.8,-770.0 442.3,-770.0 452.8,-770.0 463.3,-770.0 473.8,-770.0 484.3,-770.0 494.8,-770.0 505.3,-770.0 515.8,-770.0 526.3,-770.0 536.8,-770.0 547.3,-770.0 557.8,-770.0 568.3,-770.0 578.8,-770.0 589.2,-770.0 599.7,-770.0 610.2,-770.0 620.7,-770.0 631.2,-770.0 641.7,-770.0 652.2,-770.0 662.7,-770.0 673.2,-770.0 683.7,-770.0 694.2,-770.0 704.7,-770.0 715.2,-770.0 725.7,-770.0 736.2,-770.0 746.7,-770.0 757.2,-770.0 767.7,-770.0 778.2,-770.0 788.7,-770.0 799.1,-770.0 809.6,-770.0 820.1,-770.0 830.6,-770.0 841.1,-770.0 851.6,-770.0 862.1,-770.0 872.6,-770.0 883.1,-770.0 893.6,-770.0 904.1,-770.0 914.6,-770.0 925.1,-770.0 935.6,-770.0 946.1,-770.0 956.6,-770.0 967.1,-770.0 977.6,-770.0 988.1,-770.0 998.6,-770.0 1009.0,-770.0 1019.5,-770.0 1030.0,-770.0 1040.5,-770.0 1051.0,-770.0 1061.5,-770.0 1072.0,-770.0 1082.5,-770.0 1093.0,-770.0 1103.5,-770.0 1114.0,-770.0 1124.5,-770.0 1135.0,-770.0 1145.5,-770.0 1156.0,-770.0 1166.5,-770.0 1177.0,-770.0 1187.5,-770.0 1198.0,-770.0 1208.5,43.0 1218.9,43.0 1229.4,43.0 1239.9,43.0 1250.4,43.0 1260.9,856.0 1271.4,856.0 1281.9,856.0 1292.4,956.0 1302.9,1669.0 1313.4,1669.0 1323.9,1669.0 1334.4,1669.0 1344.9,1669.0 1355.4,956.0 1365.9,856.0 1376.4,856.0 1386.9,856.0 1397.4,43.0 1407.9,43.0 1418.4,43.0 1428.8,43.0 1439.3,43.0 1449.8,-770.0 1460.3,-770.0 1470.8,-770.0 1481.3,-770.0 1491.8,-770.0 1502.3,-770.0 1512.8,-770.0 1523.3,-770.0 1533.8,-770.0 1544.3,-770.0 1554.8,-770.0 1565.3,-770.0 1575.8,-770.0 1586.3,-770.0 1596.8,-770.0 1607.3,-770.0 1617.8,-770.0 1628.3,-770.0 1638.8,-770.0 1649.2,-770.0 1659.7,-770.0 1670.2,-770.0 1680.7,-770.0 1691.2,-770.0 1701.7,-770.0 1712.2,-770.0 1722.7,-770.0 1733.2,-770.0 1743.7,-770.0 1754.2,-770.0 1764.7,-770.0 1775.2,-770.0 1785.7,-770.0 1796.2,-770.0 1806.7,-770.0 1817.2,-770.0 1827.7,-770.0 1838.2,-770.0 1848.6,-770.0 1859.1,-770.0 1869.6,-770.0 1880.1,-770.0 1890.6,-770.0 1901.1,-770.0 1911.6,-770.0 1922.1,-770.0 1932.6,-770.0 1943.1,-770.0 1953.6,-770.0 1964.1,-770.0 1974.6,-770.0 1985.1,-770.0 1995.6,-770.0 2006.1,-770.0 2016.6,-770.0 2027.1,-770.0 2037.6,-770.0 2048.1,-770.0 2058.5,-770.0 2069.0,-770.0 2079.5,-770.0 2090.0,-770.0 2100.5,-770.0 2111.0,-770.0 2121.5,-770.0 2132.0,-770.0 2142.5,-770.0 2153.0,-770.0 2163.5,-770.0 2174.0,-770.0 2184.5,-770.0 2195.0,-770.0 2205.5,-770.0 2216.0,-770.0 2226.5,-770.0 2237.0,-770.0 2247.5,-770.0 2258.0,-770.0 2268.4,-770.0 2278.9,-770.0 2289.4,-770.0 2299.9,-770.0 2310.4,-770.0 2320.9,-770.0 2331.4,-770.0 2341.9,-770.0 2352.4,-770.0 2362.9,-770.0 2373.4,-770.0" fill="none" stroke="#8b479e" stroke-width="10.8" stroke-linejoin="round" stroke-linecap="square"/></g>
<rect x="1852" y="76" width="488" height="408" fill="#ffffff"/>
<path fill="#000" d="M1849.9 73.9h493v6h-493z M1849.9 480.9h493v5.9h-493z M1849.9 73.9h5v412.9h-5z M2336.9 73.9h6v412.9h-6z"/>
<line x1="1894.9" y1="130.5" x2="2000" y2="130.5" stroke="#8b479e" stroke-width="11"/>
<line x1="1894.9" y1="226.7" x2="2000" y2="226.7" stroke="#008000" stroke-width="11"/>
<line x1="1894.9" y1="324.1" x2="2000" y2="324.1" stroke="#ff0000" stroke-width="11"/>
<line x1="1894.9" y1="420.2" x2="2000" y2="420.2" stroke="#547c9d" stroke-width="11"/>
<g font-family="'Liberation Serif', 'DejaVu Serif', serif" fill="#000">
<text x="2068.4" y="153.5" font-size="72" textLength="243.7" lengthAdjust="spacingAndGlyphs">pristine</text>
<text x="2068.4" y="250.2" font-size="72" textLength="240.0" lengthAdjust="spacingAndGlyphs">random</text>
<text x="2067.5" y="347.6" font-size="72" textLength="94" lengthAdjust="spacingAndGlyphs">3N</text>
<text x="2067.5" y="443.6" font-size="72" textLength="94" lengthAdjust="spacingAndGlyphs">2N</text>
<text x="256" y="1685.0" font-size="56" text-anchor="end">0.0</text>
<text x="256" y="1278.5" font-size="56" text-anchor="end">0.5</text>
<text x="256" y="872.0" font-size="56" text-anchor="end">1.0</text>
<text x="256" y="465.5" font-size="56" text-anchor="end">1.5</text>
<text x="256" y="59.0" font-size="56" text-anchor="end">2.0</text>
<text x="220.8" y="1729.5" font-size="56" textLength="110" lengthAdjust="spacingAndGlyphs">−1.0</text>
<text x="745.6" y="1729.5" font-size="56" textLength="110" lengthAdjust="spacingAndGlyphs">−0.5</text>
<text x="1324.9" y="1729.5" font-size="56" text-anchor="middle">0.0</text>
<text x="1849.7" y="1729.5" font-size="56" text-anchor="middle">0.5</text>
<text x="2374.4" y="1729.5" font-size="56" text-anchor="middle">1.0</text>
<text x="1213" y="1832.6" font-size="98" font-style="italic" textLength="67" lengthAdjust="spacingAndGlyphs">E</text>
<text x="1280" y="1830" font-size="93">[</text>
<text x="1311.6" y="1830.5" font-size="93" font-weight="bold" textLength="101.7" lengthAdjust="spacingAndGlyphs">ev</text>
<text x="1410" y="1830" font-size="93">]</text>
<g transform="translate(112.5,958) rotate(-90)"><text x="-3.5" y="0" font-size="98" font-style="italic">G</text><text x="73" y="10" font-size="110" font-family="DejaVu Sans" font-weight="200">/</text><text x="120.3" y="-37.5" font-size="65">2<tspan font-style="italic">e</tspan><tspan font-size="46" dy="-24">2</tspan></text><rect x="120.1" y="-26.7" width="88.1" height="5.4"/><text x="149.5" y="32" font-size="65" font-style="italic">h</text></g>
</g>
</svg>
</body></html>
